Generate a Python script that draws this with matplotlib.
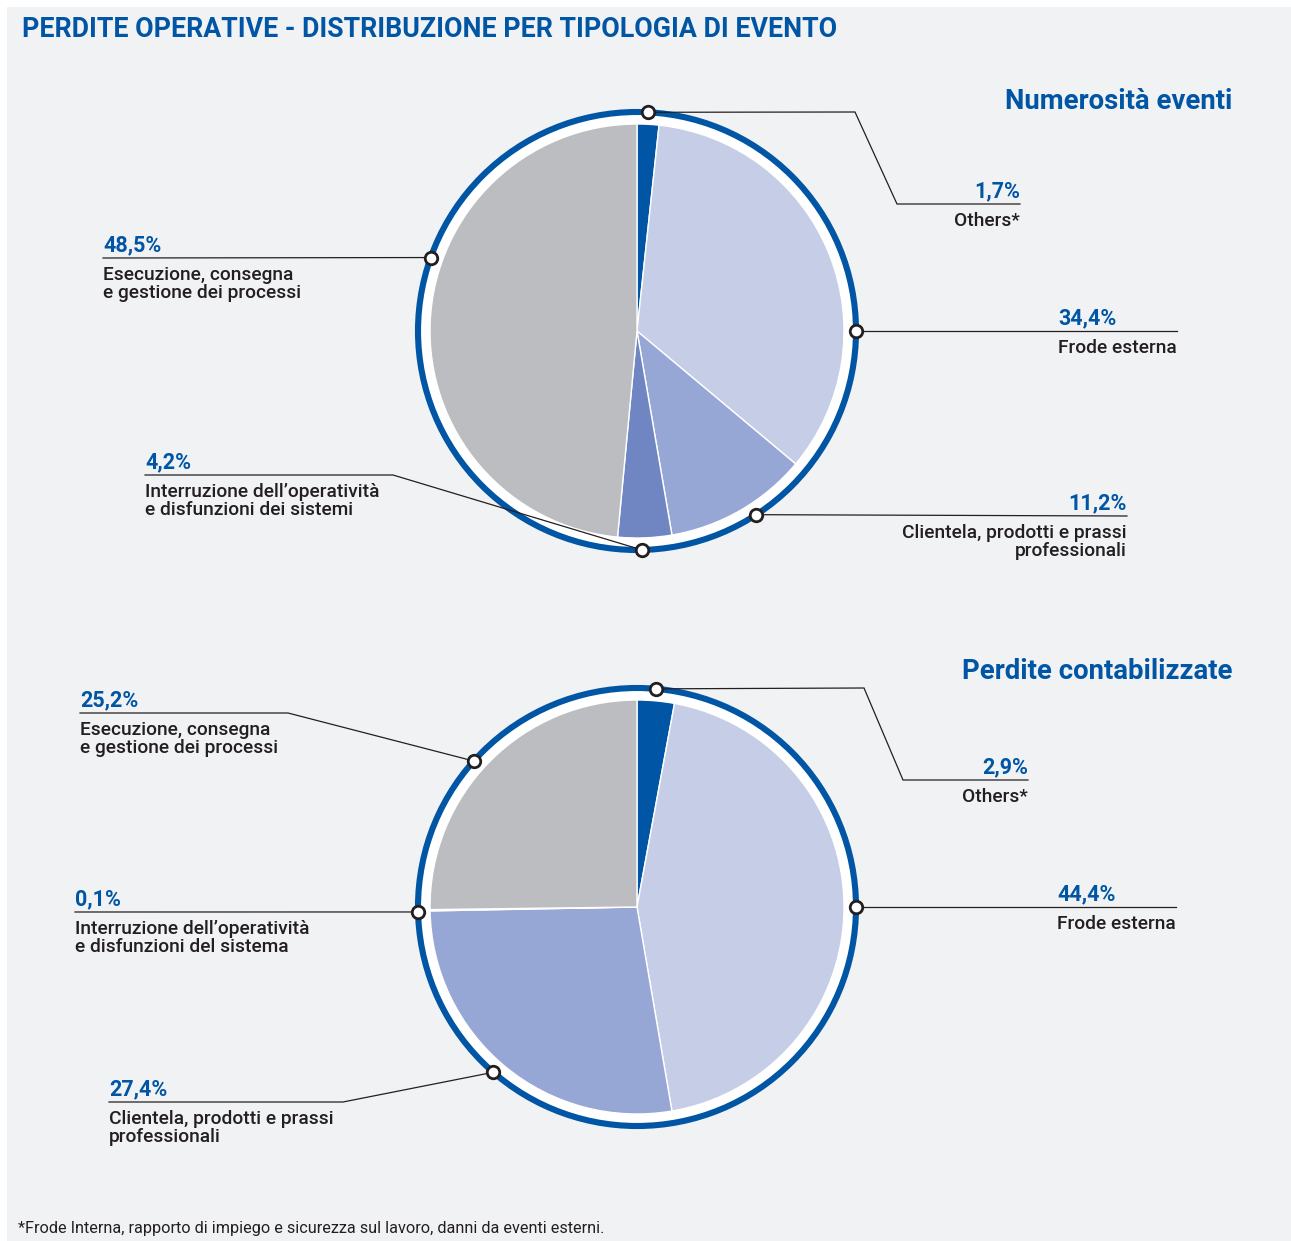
import matplotlib
matplotlib.use("Agg")
import matplotlib.pyplot as plt
from matplotlib.patches import Circle, Rectangle
import numpy as np

plt.rcParams['font.family'] = ['Roboto', 'DejaVu Sans']

# data
categories = ['Others*', 'Frode esterna', 'Clientela, prodotti e prassi\nprofessionali',
              "Interruzione dell’operatività\ne disfunzioni dei sistemi",
              'Esecuzione, consegna\ne gestione dei processi']
categories2 = ['Others*', 'Frode esterna', 'Clientela, prodotti e prassi\nprofessionali',
               "Interruzione dell’operatività\ne disfunzioni del sistema",
               'Esecuzione, consegna\ne gestione dei processi']
eventi = [1.7, 34.4, 11.2, 4.2, 48.5]
perdite = [2.9, 44.4, 27.4, 0.1, 25.2]
labels_eventi = ['1,7%', '34,4%', '11,2%', '4,2%', '48,5%']
labels_perdite = ['2,9%', '44,4%', '27,4%', '0,1%', '25,2%']

colors = ['#0055a4', '#c5cde7', '#97a7d5', '#6f86c3', '#bcbdc1']
BLUE = '#0055a4'
INK = '#231f20'
BG = '#f1f2f4'

W, H = 1291, 1241
fig = plt.figure(figsize=(W / 100, H / 100), dpi=100)
ax = fig.add_axes([0, 0, 1, 1])


def Y(py):
    return H - py


ax.add_patch(Rectangle((7, 0), W - 7, H - 7, facecolor=BG, edgecolor='none', zorder=0))

# layout for each pie: center, marker angle (deg clockwise from top), leader path, text anchor
layouts = [
    dict(center=(637, 331), values=eventi, labels=labels_eventi, cats=categories,
         title='Numerosità eventi', title_y=109,
         marker_ang=[2.9, 90, 147, 178.7, 289.6],
         paths=[[(855, 112), (897, 204), (1020, 204)],
                [(1177, 331)],
                [(1127, 516)],
                [(393, 475), (145, 475)],
                [(103, 258)]],
         text=[(1020, 'right'), (1058, 'left'), (1127, 'right'), (145, 'left'), (103, 'left')]),
    dict(center=(637, 907), values=perdite, labels=labels_perdite, cats=categories2,
         title='Perdite contabilizzate', title_y=679,
         marker_ang=[5, 90, 221, 268.7, 311.8],
         paths=[[(864, 688), (903, 780), (1028, 780)],
                [(1176, 907)],
                [(343, 1102), (109, 1102)],
                [(75, 912)],
                [(288, 713), (80, 713)]],
         text=[(1028, 'right'), (1057, 'left'), (109, 'left'), (75, 'left'), (80, 'left')]),
]

R_PIE = 207
R_RING = 219

for lay in layouts:
    cx, cy = lay['center']
    ax.add_patch(Circle((cx, Y(cy)), R_RING, facecolor='white', edgecolor=BLUE,
                        linewidth=4.4, zorder=1))
    wedges, _ = ax.pie(lay['values'], colors=colors, startangle=90, counterclock=False,
                       radius=R_PIE, center=(cx, Y(cy)),
                       wedgeprops=dict(edgecolor='white', linewidth=1.0))
    for w in wedges:
        w.set_zorder(2)

    for i in range(5):
        a = np.deg2rad(lay['marker_ang'][i])
        mx = cx + R_RING * np.sin(a)
        my = cy - R_RING * np.cos(a)
        pts = [(mx, my)] + lay['paths'][i]
        ax.plot([p[0] for p in pts], [Y(p[1]) for p in pts], color=INK, lw=0.9,
                solid_joinstyle='miter', zorder=3)
        ax.plot(mx, Y(my), 'o', ms=9, mfc='white', mec=INK, mew=2.0, zorder=4)
        L = pts[-1][1]
        tx, ha = lay['text'][i]
        ax.text(tx, Y(L - 6.5), lay['labels'][i], color=BLUE, fontsize=15.5,
                fontweight='bold', ha=ha, va='baseline', zorder=5)
        for k, line in enumerate(lay['cats'][i].split('\n')):
            ax.text(tx, Y(L + 22 + 18 * k), line, color=INK, fontsize=13.8,
                    fontweight='medium', ha=ha, va='baseline', zorder=5)

    ax.text(1232, Y(lay['title_y']), lay['title'], color=BLUE, fontsize=19.8,
            fontweight='bold', ha='right', va='baseline')

ax.text(22, Y(37), 'PERDITE OPERATIVE - DISTRIBUZIONE PER TIPOLOGIA DI EVENTO', color=BLUE,
        fontsize=19.3, fontweight='bold', ha='left', va='baseline')
ax.text(18, Y(1233), '*Frode Interna, rapporto di impiego e sicurezza sul lavoro, danni da eventi esterni.',
        color=INK, fontsize=11.7, ha='left', va='baseline')

ax.set_xlim(0, W)
ax.set_ylim(0, H)
ax.set_aspect('auto')
ax.axis('off')
fig.savefig('out.png', dpi=100, facecolor='white')
